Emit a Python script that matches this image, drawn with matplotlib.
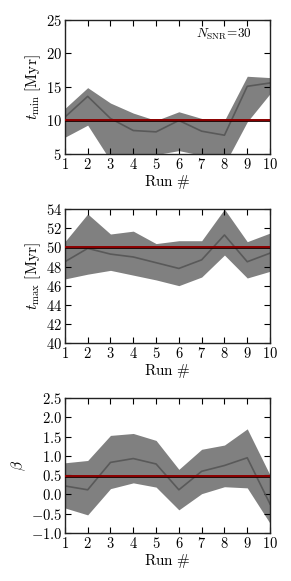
import matplotlib
matplotlib.use("Agg")
import matplotlib.pyplot as plt
import numpy as np
from matplotlib.ticker import FuncFormatter, MultipleLocator

plt.rcParams['mathtext.fontset'] = 'cm'
plt.rcParams['font.family'] = 'serif'

runs = [1, 2, 3, 4, 5, 6, 7, 8, 9, 10]

tmin_mean = [10.5, 13.6, 10.3, 8.5, 8.3, 10.0, 8.4, 7.8, 15.1, 15.6]
tmin_hi = [11.8, 14.9, 12.6, 11.1, 10.0, 11.3, 10.3, 10.0, 16.6, 16.4]
tmin_lo = [7.5, 9.3, 4.0, 4.3, 4.9, 5.5, 4.8, 3.4, 9.8, 14.0]
tmin_true = 10.0

tmax_mean = [48.5, 49.9, 49.3, 49.0, 48.4, 47.8, 48.7, 51.3, 48.5, 49.4]
tmax_hi = [50.6, 53.5, 51.4, 51.7, 50.4, 50.7, 50.7, 54.0, 50.6, 51.5]
tmax_lo = [46.7, 47.2, 47.6, 47.1, 46.6, 46.0, 46.9, 49.2, 46.8, 47.5]
tmax_true = 50.0

beta_mean = [0.22, 0.12, 0.83, 0.93, 0.79, 0.12, 0.60, 0.75, 0.95, -0.25]
beta_hi = [0.82, 0.88, 1.53, 1.58, 1.40, 0.65, 1.17, 1.28, 1.70, 0.50]
beta_lo = [-0.35, -0.53, 0.15, 0.30, 0.19, -0.40, 0.02, 0.20, 0.17, -0.75]
beta_true = 0.47

panels = [
    (tmin_mean, tmin_hi, tmin_lo, tmin_true, (5, 25), 5, r'$t_{\rm min}\ [\rm Myr]$', '%d'),
    (tmax_mean, tmax_hi, tmax_lo, tmax_true, (40, 54), 2, r'$t_{\rm max}\ [\rm Myr]$', '%d'),
    (beta_mean, beta_hi, beta_lo, beta_true, (-1.0, 2.5), 0.5, r'$\beta$', '%.1f'),
]

fig = plt.figure(figsize=(2.91, 5.81), dpi=100)
L, W = 0.223, 0.705
boxes = [(0.735, 0.2306), (0.4096, 0.2304), (0.0826, 0.2324)]

for (mean, hi, lo, true, ylim, step, ylab, fmt), (b, h) in zip(panels, boxes):
    ax = fig.add_axes([L, b, W, h])
    ax.fill_between(runs, lo, hi, color='#808080', lw=0, zorder=1)
    ax.plot(runs, mean, color='#555555', lw=1.2, alpha=0.9, zorder=2)
    ax.axhline(true, color='#1a0000', lw=2.0, zorder=3)
    ax.axhline(true, color='#a00000', lw=1.2, zorder=4)
    ax.set_xlim(1, 10)
    ax.set_ylim(*ylim)
    ax.xaxis.set_major_locator(MultipleLocator(1))
    ax.yaxis.set_major_locator(MultipleLocator(step))
    ax.xaxis.set_major_formatter(FuncFormatter(lambda v, p: r'$%d$' % round(v)))
    ax.yaxis.set_major_formatter(FuncFormatter(lambda v, p, f=fmt: r'$' + (f % v) + r'$'))
    ax.tick_params(direction='in', top=True, right=True, length=4, width=0.8,
                   labelsize=10.5, pad=2)
    for s in ax.spines.values():
        s.set_linewidth(1.0)
        s.set_color('#222222')
    ax.set_xlabel(r'$\rm Run\ \#$', fontsize=11, labelpad=1)
    ax.set_ylabel(ylab, fontsize=11, labelpad=2)
    if ylim == (5, 25):
        ax.text(0.91, 0.895, r'$N_{\rm SNR}\!=\!30$', transform=ax.transAxes,
                ha='right', va='center', fontsize=9.5)

fig.savefig('out.png', dpi=100)
